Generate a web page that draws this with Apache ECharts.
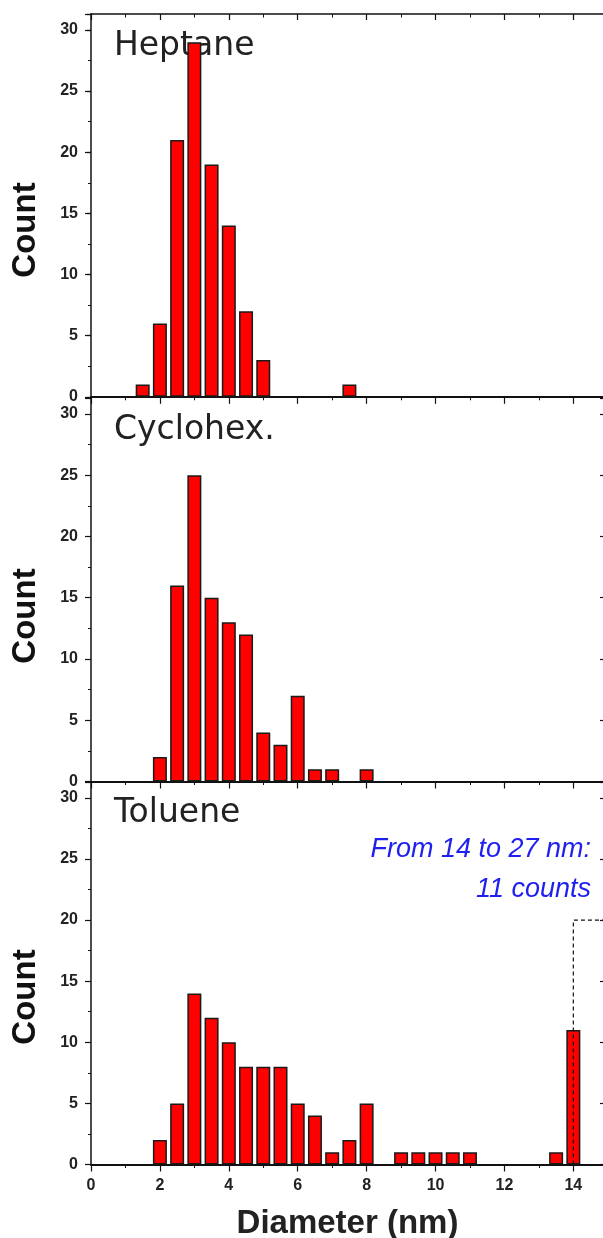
<!DOCTYPE html>
<html>
<head>
<meta charset="utf-8">
<script src="https://cdn.jsdelivr.net/npm/echarts@6/dist/echarts.min.js"></script>
<style>
html,body{margin:0;padding:0;background:#fff;}
#chart{width:603px;height:1238px;}
</style>
</head>
<body>
<div id="chart"></div>
<script>
// ---- data ----
const panelNames = ['Heptane', 'Cyclohex.', 'Toluene'];
const heptaneDiameter = [1.5, 2, 2.5, 3, 3.5, 4, 4.5, 5, 7.5];
const heptaneCount    = [1, 6, 21, 29, 19, 14, 7, 3, 1];
const cyclohexDiameter = [2, 2.5, 3, 3.5, 4, 4.5, 5, 5.5, 6, 6.5, 7, 8];
const cyclohexCount    = [2, 16, 25, 15, 13, 12, 4, 3, 7, 1, 1, 1];
const tolueneDiameter = [2, 2.5, 3, 3.5, 4, 4.5, 5, 5.5, 6, 6.5, 7, 7.5, 8, 9, 9.5, 10, 10.5, 11, 13.5, 14];
const tolueneCount    = [2, 5, 14, 12, 10, 8, 8, 8, 5, 4, 1, 2, 5, 1, 1, 1, 1, 1, 1, 11];
const xTickValues = [0, 2, 4, 6, 8, 10, 12, 14];
const yTickValues = [0, 5, 10, 15, 20, 25, 30];
const overflowBin = 14;      // bin that collects 14-27 nm
const overflowGuideY = 20;   // dashed guide level
const annotationLines = ['From 14 to 27 nm:', '11 counts'];
const xAxisTitle = 'Diameter (nm)';
const yAxisTitle = 'Count';

const seriesX = [heptaneDiameter, cyclohexDiameter, tolueneDiameter];
const seriesY = [heptaneCount, cyclohexCount, tolueneCount];

// ---- layout ----
const X_MIN = 0, X_MAX = 14.89, Y_MIN = 0, Y_MAX = 31.3;
const grids = [
  {left: 91, width: 513, top: 14, height: 382.8},
  {left: 91, width: 513, top: 398, height: 383.5},
  {left: 91, width: 513, top: 782, height: 382.5}
];
const axisColor = '#111';
const labelColor = '#222';

const option = {
  animation: false,
  backgroundColor: '#fff',
  grid: grids.map(g => Object.assign({containLabel: false, outerBoundsMode: 'none'}, g)),
  xAxis: [],
  yAxis: [],
  series: [],
  graphic: []
};

for (let i = 0; i < 3; i++) {
  const isLast = i === 2;
  // bottom x axis
  option.xAxis.push({
    type: 'value', gridIndex: i, position: 'bottom',
    min: X_MIN, max: X_MAX, interval: 2,
    axisLine: {show: true, onZero: false, lineStyle: {color: axisColor, width: 2}},
    axisTick: {show: true, inside: false, length: 7, lineStyle: {color: axisColor, width: 1.2}},
    minorTick: {show: true, splitNumber: 2, length: 3.5, lineStyle: {color: axisColor, width: 1}},
    splitLine: {show: false},
    axisLabel: {
      show: isLast, color: labelColor, fontSize: 16, fontWeight: 'bold',
      fontFamily: 'Liberation Sans, Arial, sans-serif', margin: 13,
      showMaxLabel: false,
      formatter: v => xTickValues.indexOf(v) >= 0 ? String(v) : ''
    },
    name: isLast ? xAxisTitle : '',
    nameLocation: 'middle', nameGap: 43,
    nameTextStyle: {fontSize: 33, fontWeight: 'bold', color: labelColor,
      fontFamily: 'Liberation Sans, Arial, sans-serif'}
  });
  // left y axis
  option.yAxis.push({
    type: 'value', gridIndex: i, position: 'left',
    min: Y_MIN, max: Y_MAX, interval: 5,
    axisLine: {show: true, lineStyle: {color: axisColor, width: 1.5}},
    axisTick: {show: true, inside: false, length: 6, lineStyle: {color: axisColor, width: 1.2}},
    minorTick: {show: true, splitNumber: 2, length: 3, lineStyle: {color: axisColor, width: 1}},
    splitLine: {show: false},
    axisLabel: {
      color: labelColor, fontSize: 16, fontWeight: 'bold',
      fontFamily: 'Liberation Sans, Arial, sans-serif', margin: 13,
      showMaxLabel: false,
      formatter: v => yTickValues.indexOf(v) >= 0 ? String(v) : ''
    }
  });
  // right y axis (inward ticks only)
  option.yAxis.push({
    type: 'value', gridIndex: i, position: 'right',
    min: Y_MIN, max: Y_MAX, interval: 5,
    axisLine: {show: false},
    axisTick: {show: true, inside: true, length: 4, lineStyle: {color: axisColor, width: 1.2}},
    splitLine: {show: false},
    axisLabel: {show: false}
  });
}
// top x axis of first panel (inward ticks)
option.xAxis.push({
  type: 'value', gridIndex: 0, position: 'top',
  min: X_MIN, max: X_MAX, interval: 2,
  axisLine: {show: true, onZero: false, lineStyle: {color: axisColor, width: 1.5}},
  axisTick: {show: true, inside: true, length: 6, lineStyle: {color: axisColor, width: 1.2}},
  minorTick: {show: true, splitNumber: 2, length: 3.5, lineStyle: {color: axisColor, width: 1}},
  splitLine: {show: false},
  axisLabel: {show: false}
});

for (let i = 0; i < 3; i++) {
  option.series.push({
    type: 'bar', name: panelNames[i],
    xAxisIndex: i, yAxisIndex: i * 2,
    barWidth: 14,
    data: seriesX[i].map((x, k) => [x, seriesY[i][k]]),
    itemStyle: {color: '#ff0000', borderColor: '#1a1a1a', borderWidth: 1.5},
    z: 2
  });
}
// dashed guide for the overflow bin
option.series.push({
  type: 'line', xAxisIndex: 2, yAxisIndex: 4,
  data: [[overflowBin, 0], [overflowBin, overflowGuideY], [X_MAX, overflowGuideY]],
  symbol: 'none', silent: true,
  lineStyle: {color: '#111', width: 1.2, type: [4, 3]},
  z: 5
});

// panel titles and Count labels
const titleY = [30, 414, 797];
const countY = [230, 616, 997];
for (let i = 0; i < 3; i++) {
  option.graphic.push({
    type: 'text', left: 114, top: titleY[i],
    style: {text: panelNames[i], fontSize: 33, fontFamily: 'DejaVu Sans, sans-serif',
      fill: '#222', fontWeight: 'normal'}
  });
  option.graphic.push({
    type: 'text', x: 26, y: countY[i], rotation: Math.PI / 2,
    style: {text: yAxisTitle, fontSize: 33, fontWeight: 'bold',
      fontFamily: 'Liberation Sans, Arial, sans-serif', fill: '#111',
      align: 'center', verticalAlign: 'middle'}
  });
}
// blue annotation
option.graphic.push({
  type: 'text', x: 591, y: 849,
  style: {text: annotationLines[0], fontSize: 27, fontStyle: 'italic',
    fontFamily: 'Liberation Sans, Arial, sans-serif', fill: '#1f1ff0',
    align: 'right', verticalAlign: 'middle'}
});
option.graphic.push({
  type: 'text', x: 591, y: 889,
  style: {text: annotationLines[1], fontSize: 27, fontStyle: 'italic',
    fontFamily: 'Liberation Sans, Arial, sans-serif', fill: '#1f1ff0',
    align: 'right', verticalAlign: 'middle'}
});

const chart = echarts.init(document.getElementById('chart'), null, {renderer: 'canvas'});
chart.setOption(option);
</script>
</body>
</html>
